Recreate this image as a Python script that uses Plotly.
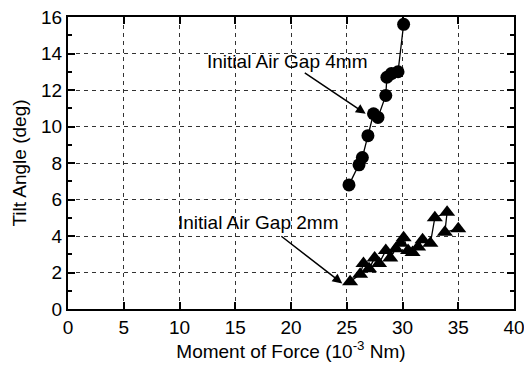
import plotly.graph_objects as go

# Initial air gap 4 mm (circles)
gap4_x = [25.2, 26.1, 26.4, 26.9, 27.4, 27.8, 28.5, 28.6, 29.0, 29.6, 30.1]
gap4_y = [6.8, 7.9, 8.3, 9.5, 10.7, 10.5, 11.7, 12.7, 12.9, 13.0, 15.6]

# Initial air gap 2 mm (triangles)
gap2_x = [25.3, 26.2, 26.5, 27.0, 27.5, 27.9, 28.5, 28.9, 29.4, 29.8, 30.1,
          30.5, 30.9, 31.4, 31.8, 32.5, 32.9, 34.0, 33.8, 35.0]
gap2_y = [1.5, 1.9, 2.5, 2.2, 2.8, 2.5, 3.2, 2.8, 3.3, 3.6, 3.9,
          3.2, 3.1, 3.4, 3.8, 3.6, 5.0, 5.3, 4.2, 4.4]

x_ticks = [0, 5, 10, 15, 20, 25, 30, 35, 40]
y_ticks = [0, 2, 4, 6, 8, 10, 12, 14, 16]

label4 = "Initial Air Gap 4mm"
label2 = "Initial Air Gap 2mm"

FONT = "Liberation Sans, Arial, sans-serif"
NARROW = "Liberation Sans Narrow, Liberation Sans, Arial, sans-serif"

fig = go.Figure()
fig.add_trace(go.Scatter(
    x=gap4_x, y=gap4_y, mode="lines+markers",
    line=dict(color="black", width=1.3),
    marker=dict(symbol="circle", size=13, color="black"),
    showlegend=False, cliponaxis=False))
fig.add_trace(go.Scatter(
    x=gap2_x, y=gap2_y, mode="lines+markers",
    line=dict(color="black", width=1.3),
    marker=dict(symbol="triangle-up", size=14, color="black"),
    showlegend=False, cliponaxis=False))

# text labels
fig.add_annotation(x=12.3, y=13.55, text=label4, showarrow=False,
                   xanchor="left", yanchor="middle",
                   font=dict(family=FONT, size=19, color="black"))
fig.add_annotation(x=9.7, y=4.75, text=label2, showarrow=False,
                   xanchor="left", yanchor="middle",
                   font=dict(family=FONT, size=19, color="black"))
# arrows
fig.add_annotation(x=26.7, y=10.7, ax=21.1, ay=13.0, axref="x", ayref="y",
                   xref="x", yref="y", text="", showarrow=True,
                   arrowhead=2, arrowsize=1.3, arrowwidth=1.5, arrowcolor="black")
fig.add_annotation(x=24.6, y=1.4, ax=19.0, ay=4.05, axref="x", ayref="y",
                   xref="x", yref="y", text="", showarrow=True,
                   arrowhead=2, arrowsize=1.3, arrowwidth=1.5, arrowcolor="black")

axis_common = dict(
    showline=True, linecolor="black", linewidth=2, mirror="ticks",
    ticks="inside", tickcolor="black", tickwidth=2, ticklen=7,
    showgrid=True, gridcolor="#333333", gridwidth=1, griddash="4px,4px",
    zeroline=False, automargin=False, ticklabeloverflow="allow",
    tickfont=dict(family=NARROW, size=19, color="black"),
)

fig.update_xaxes(range=[0, 40], tickvals=x_ticks, ticktext=[str(v) for v in x_ticks],
                 title=dict(text="Moment of Force (10<sup>-3</sup> Nm)",
                            font=dict(family=FONT, size=19, color="black"), standoff=6),
                 **axis_common)
fig.update_yaxes(range=[0, 16], tickvals=y_ticks, ticktext=[str(v) for v in y_ticks],
                 minor=dict(dtick=1, ticks="inside", ticklen=4, tickcolor="black", tickwidth=1.5, showgrid=False),
                 title=dict(text="Tilt Angle (deg)",
                            font=dict(family=FONT, size=19, color="black"), standoff=9),
                 **axis_common)

fig.update_layout(
    width=524, height=368,
    margin=dict(l=68, r=10, t=17, b=59),
    paper_bgcolor="white", plot_bgcolor="white",
    font=dict(family=FONT, color="black"),
)

fig.write_html("out.html")
